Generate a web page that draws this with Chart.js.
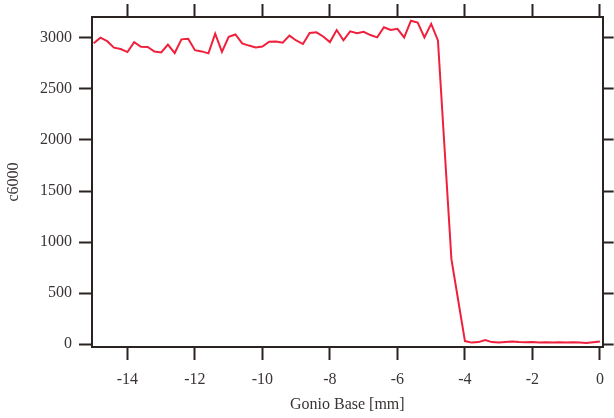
<!DOCTYPE html>
<html>
<head>
<meta charset="utf-8">
<script src="https://cdn.jsdelivr.net/npm/chart.js@4.4.1/dist/chart.umd.min.js"></script>
<style>
  html, body { margin: 0; padding: 0; background: #ffffff; }
  #wrap { width: 614px; height: 418px; }
</style>
</head>
<body>
<div id="wrap"><canvas id="c" width="614" height="418"></canvas></div>
<script>
// Gonio base position (mm), one sample every 0.2 mm
const positionsMm = [
  -15.0, -14.8, -14.6, -14.4, -14.2, -14.0, -13.8, -13.6, -13.4, -13.2,
  -13.0, -12.8, -12.6, -12.4, -12.2, -12.0, -11.8, -11.6, -11.4, -11.2,
  -11.0, -10.8, -10.6, -10.4, -10.2, -10.0, -9.8, -9.6, -9.4, -9.2,
  -9.0, -8.8, -8.6, -8.4, -8.2, -8.0, -7.8, -7.6, -7.4, -7.2,
  -7.0, -6.8, -6.6, -6.4, -6.2, -6.0, -5.8, -5.6, -5.4, -5.2,
  -5.0, -4.8, -4.6, -4.4, -4.2, -4.0, -3.8, -3.6, -3.4, -3.2,
  -3.0, -2.8, -2.6, -2.4, -2.2, -2.0, -1.8, -1.6, -1.4, -1.2,
  -1.0, -0.8, -0.6, -0.4, -0.2, 0.0
];

// c6000 counts at each position
const c6000 = [
  2948, 3002, 2968, 2905, 2891, 2861, 2959, 2914, 2912, 2866,
  2857, 2935, 2852, 2986, 2991, 2880, 2868, 2849, 3042, 2863,
  3011, 3034, 2947, 2925, 2906, 2916, 2963, 2966, 2954, 3023,
  2975, 2940, 3048, 3055, 3014, 2959, 3077, 2977, 3065, 3046,
  3060, 3028, 3005, 3104, 3078, 3089, 3005, 3169, 3150, 3004,
  3138, 2976, 1900, 830, 430, 30, 15, 20, 40, 20,
  15, 20, 25, 20, 18, 20, 15, 18, 15, 18,
  15, 18, 15, 12, 18, 25
];

// Tick labels on both axes
const xTickValues = [-14, -12, -10, -8, -6, -4, -2, 0];
const yTickValues = [0, 500, 1000, 1500, 2000, 2500, 3000];

const axisColor = '#2b2222';
const textColor = '#3a3434';
const lineColor = '#f0203c';
const serif = { family: '"Liberation Serif", "DejaVu Serif", serif', size: 16 };

const X_MIN = -15.05, X_MAX = 0.08;
const Y_MIN = -28, Y_MAX = 3205;

function fixedTicks(values) {
  return scale => { scale.ticks = values.map(v => ({ value: v })); };
}

function tickGrid(len) {
  return {
    display: true,
    drawOnChartArea: false,
    drawTicks: true,
    tickLength: len,
    tickWidth: 2,
    tickColor: axisColor
  };
}

const plainNumber = v => String(v);
const border = { display: true, color: axisColor, width: 2 };

new Chart(document.getElementById('c'), {
  type: 'line',
  data: {
    datasets: [{
      data: positionsMm.map((x, i) => ({ x: x, y: c6000[i] })),
      borderColor: lineColor,
      borderWidth: 2,
      pointRadius: 0,
      tension: 0,
      fill: false,
      xAxisID: 'x',
      yAxisID: 'y'
    }]
  },
  options: {
    responsive: false,
    devicePixelRatio: 1,
    animation: false,
    layout: { padding: { top: 4, right: 0, bottom: 0, left: 0 } },
    plugins: { legend: { display: false }, tooltip: { enabled: false } },
    scales: {
      x: {
        type: 'linear', position: 'bottom', min: X_MIN, max: X_MAX,
        afterBuildTicks: fixedTicks(xTickValues),
        afterFit: s => { s.height = 71; },
        grid: tickGrid(13),
        border: border,
        ticks: { color: textColor, font: serif, padding: 10, maxRotation: 0, callback: plainNumber },
        title: { display: true, text: 'Gonio Base [mm]', color: textColor, font: serif, padding: { top: 0, bottom: 4 } }
      },
      x2: {
        type: 'linear', position: 'top', min: X_MIN, max: X_MAX,
        afterBuildTicks: fixedTicks(xTickValues),
        grid: tickGrid(13),
        border: border,
        ticks: { display: false }
      },
      y: {
        type: 'linear', position: 'left', min: Y_MIN, max: Y_MAX,
        afterBuildTicks: fixedTicks(yTickValues),
        afterFit: s => { s.width = 92; },
        grid: tickGrid(13),
        border: border,
        ticks: { color: textColor, font: serif, padding: 7, callback: plainNumber },
        title: { display: true, text: 'c6000', color: textColor, font: serif, padding: { top: 4, bottom: 0 } }
      },
      y2: {
        type: 'linear', position: 'right', min: Y_MIN, max: Y_MAX,
        afterBuildTicks: fixedTicks(yTickValues),
        grid: tickGrid(11),
        border: border,
        ticks: { display: false }
      }
    }
  }
});
</script>
</body>
</html>
